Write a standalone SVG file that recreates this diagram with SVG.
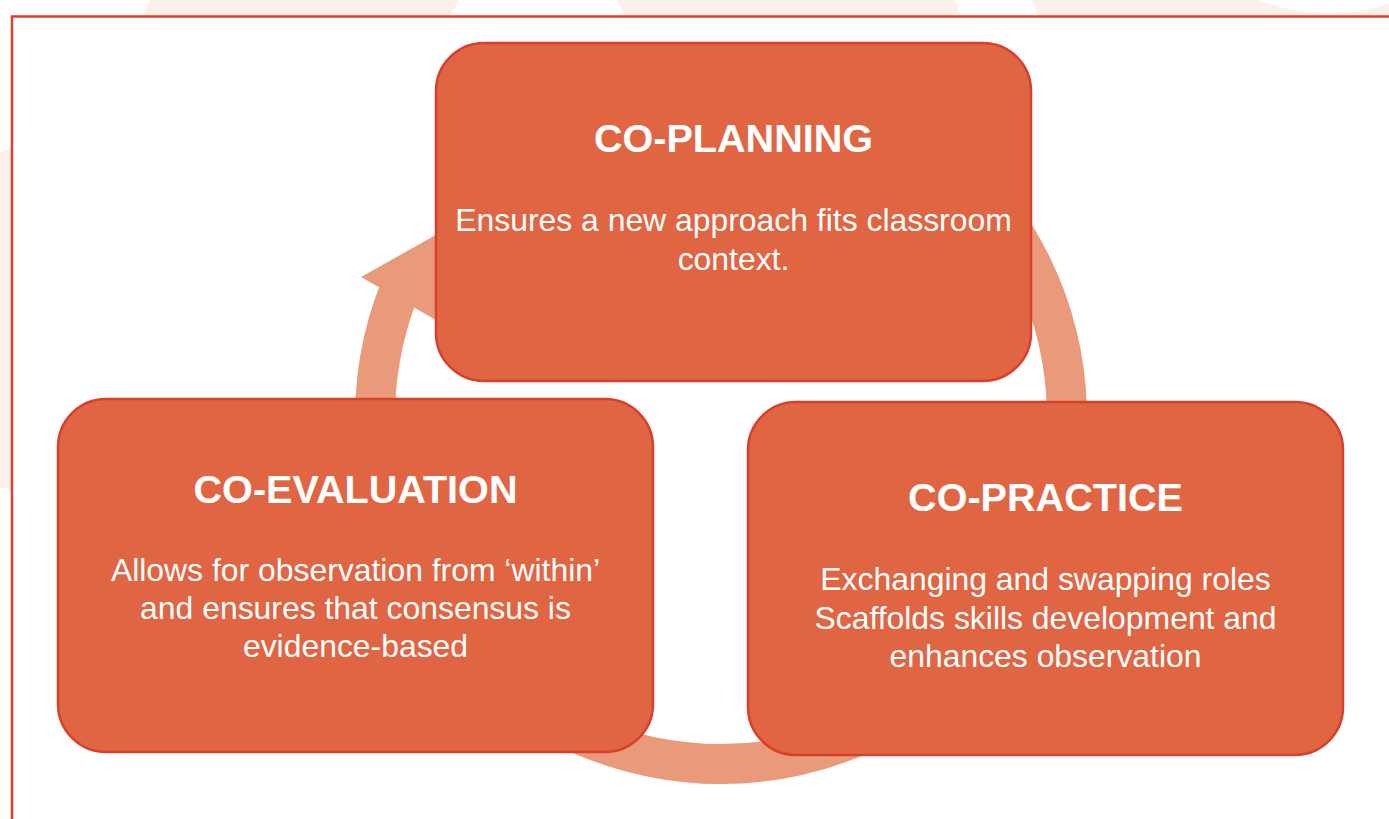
<svg xmlns="http://www.w3.org/2000/svg" width="1389" height="819" viewBox="0 0 1389 819">
<style>
.box{fill:#E06543;stroke:#D8402B;stroke-width:2.5}
.title{font-family:"Liberation Sans",Arial,sans-serif;font-weight:bold;font-size:39.6px;fill:#FFFFFF;text-anchor:middle}
.body{font-family:"Liberation Sans",Arial,sans-serif;font-size:31.9px;fill:#FFFFFF;text-anchor:middle}
.faint{fill:#FCF0EA}
.ring{fill:none;stroke:#E89A7A;stroke-width:40}
</style>
<rect x="0" y="0" width="1389" height="819" fill="#FFFFFF"/>
<g id="background">
<polygon class="faint" points="150,0 459,0 450,16 142,16"/>
<polygon class="faint" points="617,0 955,0 961,16 625,16"/>
<path class="faint" d="M1032,0 L1389,0 L1389,16 L1038,16 Z"/>
<circle cx="1329" cy="-187" r="200" fill="#FFFFFF"/>
<polygon class="faint" points="0,153 12,148 12,490 0,487"/>
<polyline points="1389,16.5 12,16.5 12,819" fill="none" stroke="#DC3F2B" stroke-width="2.5"/>
</g>
<g id="connectors">
<path class="ring" d="M631.4,83.8 A346,346 0 1 1 407.4,271.8"/>
<polygon fill="#E89A7A" points="361,277 450,227 462,335"/>
</g>
<g id="co-planning">
<rect class="box" x="436" y="43" width="595" height="338" rx="48" ry="48"/>
<text class="title" x="733.5" y="152">CO-PLANNING</text>
<text class="body" x="733.5" y="231">Ensures a new approach fits classroom</text>
<text class="body" x="733.5" y="270">context.</text>
</g>
<g id="co-evaluation">
<rect class="box" x="58" y="399" width="595" height="353" rx="48" ry="48"/>
<text class="title" x="355.5" y="502.5">CO-EVALUATION</text>
<text class="body" x="355.5" y="581">Allows for observation from ‘within’</text>
<text class="body" x="355.5" y="619">and ensures that consensus is</text>
<text class="body" x="355.5" y="657">evidence-based</text>
</g>
<g id="co-practice">
<rect class="box" x="748" y="402" width="595" height="353" rx="48" ry="48"/>
<text class="title" x="1045.5" y="510.5">CO-PRACTICE</text>
<text class="body" x="1045.5" y="590">Exchanging and swapping roles</text>
<text class="body" x="1045.5" y="628.5">Scaffolds skills development and</text>
<text class="body" x="1045.5" y="667">enhances observation</text>
</g>
</svg>
